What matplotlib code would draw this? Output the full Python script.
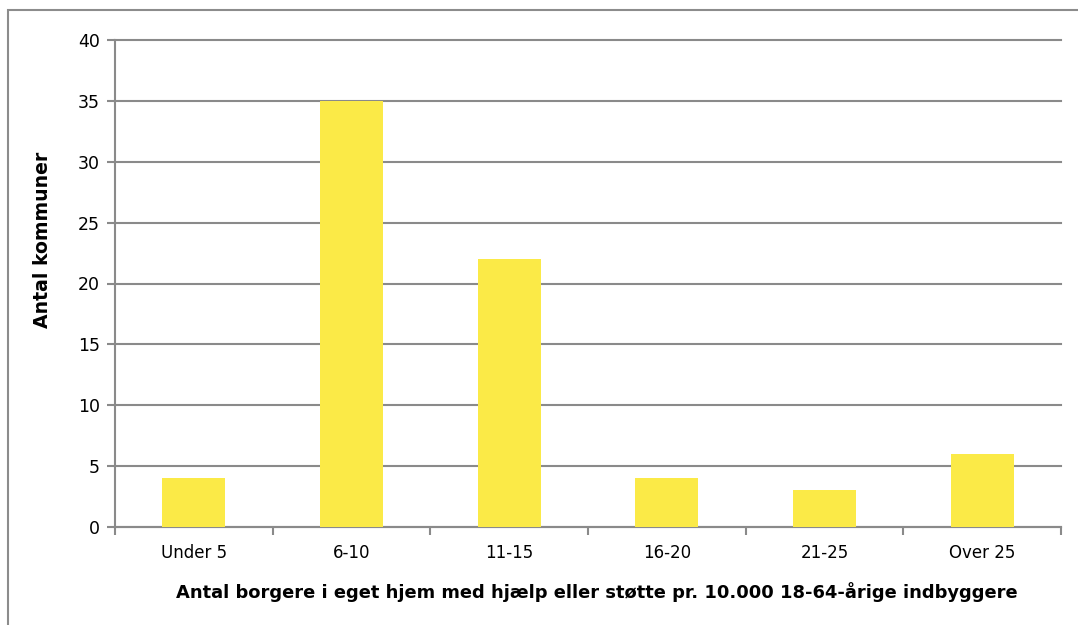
import matplotlib
matplotlib.use("Agg")
import matplotlib.pyplot as plt
from matplotlib.patches import Rectangle

categories = ["Under 5", "6-10", "11-15", "16-20", "21-25", "Over 25"]
counts = [4, 35, 22, 4, 3, 6]
y_ticks = [0, 5, 10, 15, 20, 25, 30, 35, 40]

W, H = 1078, 625
fig = plt.figure(figsize=(W / 100, H / 100), dpi=100)
fig.patch.set_facecolor("white")

# outer chart frame
fig.patches.append(Rectangle((8 / W, -0.05), 1.2, (H - 10) / H + 0.05,
                             transform=fig.transFigure, fill=False,
                             edgecolor="#8c8c8c", linewidth=1.5))

left, right, top, bottom = 115, 1061, 40, 527
ax = fig.add_axes([left / W, 1 - bottom / H, (right - left) / W, (bottom - top) / H])

grid_color = "#8a8a8a"
x = list(range(len(categories)))
ax.bar(x, counts, width=0.4, color="#FBEA47", zorder=3)

ax.set_xlim(-0.5, len(categories) - 0.5)
ax.set_ylim(0, 40)
ax.set_yticks(y_ticks)
ax.set_yticklabels([str(v) for v in y_ticks], fontsize=12.5)
ax.yaxis.grid(True, color=grid_color, linewidth=1.5, zorder=0)
for gl in ax.get_ygridlines():
    gl.set_clip_on(False)

ax.set_xticks(x)
ax.set_xticklabels(categories, fontsize=12)
ax.tick_params(axis="x", length=0, pad=12)
ax.set_xticks([i - 0.5 for i in range(len(categories) + 1)], minor=True)
ax.tick_params(axis="x", which="minor", length=6, width=1.5, color=grid_color)
ax.tick_params(axis="y", length=6, width=1.5, color=grid_color, pad=5)

for side in ["top", "right"]:
    ax.spines[side].set_visible(False)
for side in ["left", "bottom"]:
    ax.spines[side].set_color(grid_color)
    ax.spines[side].set_linewidth(1.5)

fig.text(597 / W, 1 - 592 / H,
         "Antal borgere i eget hjem med hjælp eller støtte pr. 10.000 18-64-årige indbyggere",
         ha="center", va="center", fontsize=12.9, fontweight="bold")
fig.text(43 / W, 1 - 240 / H, "Antal kommuner", rotation=90,
         ha="center", va="center", fontsize=13.6, fontweight="bold")

fig.savefig("out.png", dpi=100)
